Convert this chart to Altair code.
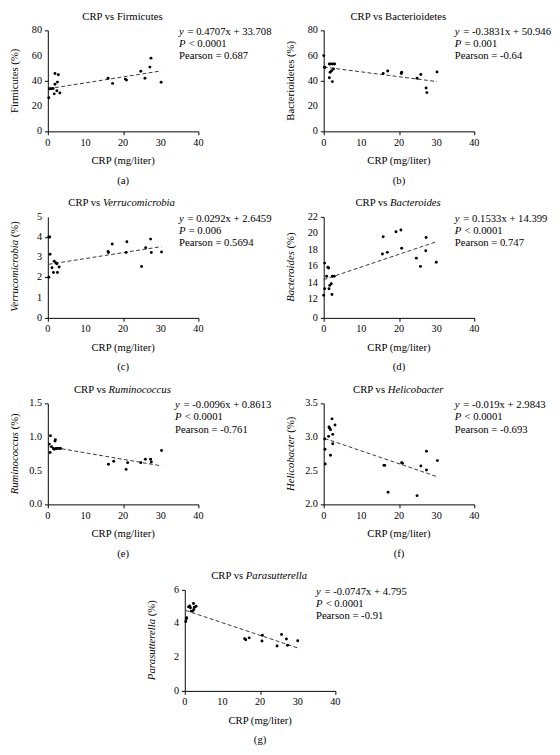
import altair as alt
import pandas as pd

FONT = "Liberation Serif, Times New Roman, serif"

# ---------------- data ----------------
crp_a = [0.26, 0.4, 0.85, 1.4, 1.7, 1.9, 1.9, 2.4, 2.55, 2.8, 3.2, 16.0, 17.2, 20.6, 20.9, 24.7, 25.8, 27.1, 27.4, 30.1]
firmicutes = [26.6, 33.8, 33.8, 34.0, 29.7, 37.3, 45.8, 32.2, 39.0, 44.8, 30.4, 42.0, 38.0, 41.4, 40.6, 47.6, 42.0, 50.9, 58.0, 38.9]

crp_b = [0.0, 0.2, 0.3, 1.5, 1.9, 2.4, 2.9, 1.5, 1.7, 2.1, 2.3, 2.6, 15.8, 17.0, 20.6, 20.7, 24.8, 25.8, 27.2, 27.4, 30.1]
bacterioidetes = [60.0, 50.9, 50.6, 53.4, 53.4, 53.4, 53.4, 42.5, 46.8, 48.0, 39.4, 49.4, 45.8, 47.8, 45.8, 46.8, 42.0, 45.0, 34.3, 30.7, 47.0]

crp_c = [0.26, 0.5, 0.26, 0.6, 1.1, 1.5, 1.7, 2.1, 2.4, 2.55, 3.0, 16.0, 16.1, 17.1, 20.8, 21.0, 24.9, 26.0, 27.3, 27.5, 30.2]
verrucomicrobia = [4.0, 4.0, 2.01, 3.15, 2.48, 2.25, 2.8, 2.73, 2.68, 2.25, 2.52, 3.29, 3.23, 3.66, 3.24, 3.77, 2.54, 3.47, 3.9, 3.24, 3.26]

crp_d = [0.26, 0.0, 0.26, 0.77, 1.1, 1.3, 1.4, 1.6, 2.0, 2.2, 2.3, 2.8, 15.8, 15.6, 16.9, 19.2, 20.5, 20.7, 24.6, 25.7, 27.2, 27.1, 29.9]
bacteroides = [16.4, 12.5, 13.3, 14.8, 15.9, 15.8, 13.3, 13.7, 13.9, 12.6, 14.8, 14.8, 19.6, 17.5, 17.7, 20.2, 20.4, 18.2, 17.0, 16.0, 19.5, 17.9, 16.5]

crp_e = [0.7, 0.4, 0.6, 1.0, 1.5, 1.9, 2.0, 1.7, 2.2, 2.5, 3.0, 3.4, 16.1, 17.5, 20.8, 21.2, 24.7, 25.9, 27.3, 27.5, 30.2]
ruminococcus = [1.02, 0.895, 0.77, 0.856, 0.83, 0.94, 0.96, 0.82, 0.83, 0.83, 0.83, 0.83, 0.595, 0.64, 0.52, 0.62, 0.62, 0.67, 0.67, 0.63, 0.80]

crp_f = [0.26, 0.34, 0.4, 1.3, 1.4, 1.6, 1.8, 1.8, 2.2, 2.4, 2.4, 3.0, 16.0, 16.2, 17.1, 20.7, 20.9, 24.8, 25.8, 27.3, 27.3, 30.2]
helicobacter = [2.97, 2.82, 2.60, 3.01, 3.15, 3.13, 3.11, 2.73, 3.27, 3.04, 2.90, 3.18, 2.58, 2.58, 2.18, 2.62, 2.61, 2.13, 2.57, 2.79, 2.51, 2.65]

crp_g = [0.26, 0.4, 0.5, 1.0, 1.3, 1.5, 1.7, 2.1, 2.3, 2.55, 3.0, 2.4, 15.9, 16.2, 17.1, 20.5, 20.6, 24.5, 25.7, 27.0, 27.3, 30.0]
parasutterella = [4.12, 4.28, 4.35, 4.99, 5.05, 4.94, 4.74, 4.74, 5.19, 4.97, 5.03, 4.84, 3.10, 3.04, 3.15, 2.96, 3.31, 2.67, 3.35, 3.08, 2.71, 2.98]

species = ["Firmicutes", "Bacterioidetes", "Verrucomicrobia", "Bacteroides", "Ruminococcus", "Helicobacter", "Parasutterella"]
italic_names = [False, False, True, True, True, True, True]
slopes = [0.4707, -0.3831, 0.0292, 0.1533, -0.0096, -0.019, -0.0747]
intercepts = [33.708, 50.946, 2.6459, 14.399, 0.8613, 2.9843, 4.795]
eq_texts = ["= 0.4707x + 33.708", "= -0.3831x + 50.946", "= 0.0292x + 2.6459", "= 0.1533x + 14.399",
            "= -0.0096x + 0.8613", "= -0.019x + 2.9843", "= -0.0747x + 4.795"]
p_texts = ["< 0.0001", "= 0.001", "= 0.006", "< 0.0001", "< 0.0001", "< 0.0001", "< 0.0001"]
pearson_texts = ["Pearson = 0.687", "Pearson = -0.64", "Pearson = 0.5694", "Pearson = 0.747",
                 "Pearson = -0.761", "Pearson = -0.693", "Pearson = -0.91"]
captions = ["(a)", "(b)", "(c)", "(d)", "(e)", "(f)", "(g)"]
y_domains = [[0, 80], [0, 80], [0, 5], [0, 12, 22], [0, 1.5], [2.0, 3.5], [0, 6]]
y_ticks = [[0, 20, 40, 60, 80], [0, 20, 40, 60, 80], [0, 1, 2, 3, 4, 5], [0, 12, 14, 16, 18, 20, 22],
           [0, 0.5, 1.0, 1.5], [2.0, 2.5, 3.0, 3.5], [0, 2, 4, 6]]
y_tick_labels = [["0", "20", "40", "60", "80"], ["0", "20", "40", "60", "80"], ["0", "1", "2", "3", "4", "5"],
                 ["0", "12", "14", "16", "18", "20", "22"], ["0.0", "0.5", "1.0", "1.5"],
                 ["2.0", "2.5", "3.0", "3.5"], ["0", "2", "4", "6"]]
x_ticks = [0, 10, 20, 30, 40]
x_tick_labels = ["0", "10", "20", "30", "40"]
x_title = "CRP (mg/liter)"
xs_all = [crp_a, crp_b, crp_c, crp_d, crp_e, crp_f, crp_g]
ys_all = [firmicutes, bacterioidetes, verrucomicrobia, bacteroides, ruminococcus, helicobacter, parasutterella]

# ---------------- layout ----------------
W, H = 155, 104
TS = 11      # title size
AS = 11      # annotation size
LS = 10.5    # tick label size

ROMAN = {"F": .556, "B": .667, "V": .722, "R": .667, "H": .722, "P": .556, "a": .444, "b": .5, "c": .444,
         "d": .5, "e": .444, "i": .278, "l": .278, "m": .778, "n": .5, "o": .5, "r": .333, "s": .389,
         "t": .278, "u": .5, "(": .333, "%": .833, ")": .333, " ": .25}
ITAL = {"F": .611, "B": .611, "V": .611, "R": .611, "H": .722, "P": .611, "a": .5, "b": .5, "c": .444,
        "d": .5, "e": .444, "i": .278, "l": .278, "m": .722, "n": .5, "o": .5, "r": .389, "s": .389,
        "t": .278, "u": .5, " ": .25}


def tw(s, italic, fs):
    tab = ITAL if italic else ROMAN
    return sum(tab.get(c, .5) for c in s) * fs


one = pd.DataFrame({"k": [0]})


def tstyle(size, italic=False, align="left", baseline="middle", angle=0):
    kw = dict(font=FONT, fontSize=size, color="black", align=align, baseline=baseline,
              fontStyle="italic" if italic else "normal", fontWeight="normal")
    if angle:
        kw["angle"] = angle
    return kw


def txt(text, x, y, size, italic=False, align="left", baseline="middle", angle=0):
    return alt.Chart(one).mark_text(text=text, **tstyle(size, italic, align, baseline, angle)).encode(
        x=alt.value(x), y=alt.value(y))


def panel(i, ann_x=135):
    xv, yv = xs_all[i], ys_all[i]
    df = pd.DataFrame({"x": xv, "y": yv})
    xs = alt.Scale(domain=[0, 40], nice=False, zero=False)
    dom = y_domains[i]
    if len(dom) == 3:
        ys = alt.Scale(domain=dom, range=[H, H - 19, 0], nice=False, zero=False)
    else:
        ys = alt.Scale(domain=dom, nice=False, zero=False)
    xax = alt.Axis(values=x_ticks, title=None, labels=False)
    yax = alt.Axis(values=y_ticks[i], title=None, labels=False)
    pts = alt.Chart(df).mark_circle(size=9, color="black", opacity=1).encode(
        x=alt.X("x:Q", scale=xs, axis=xax), y=alt.Y("y:Q", scale=ys, axis=yax))
    x0, x1 = min(xv), max(xv)
    ldf = pd.DataFrame({"x": [x0, x1], "y": [slopes[i] * x0 + intercepts[i], slopes[i] * x1 + intercepts[i]]})
    line = alt.Chart(ldf).mark_line(strokeDash=[4, 2.5], color="#333333", strokeWidth=1).encode(
        x=alt.X("x:Q", scale=xs), y=alt.Y("y:Q", scale=ys))

    # tick labels (drawn through the same scales)
    ylab = alt.Chart(pd.DataFrame({"v": y_ticks[i], "t": y_tick_labels[i]})).mark_text(
        **tstyle(LS, align="right")).encode(y=alt.Y("v:Q", scale=ys), x=alt.value(-6), text="t:N")
    xlab = alt.Chart(pd.DataFrame({"v": x_ticks, "t": x_tick_labels})).mark_text(
        **tstyle(LS, align="center")).encode(x=alt.X("v:Q", scale=xs), y=alt.value(H + 12), text="t:N")
    xt = txt(x_title, W / 2, H + 31, TS, align="center")

    it = italic_names[i]
    sp = species[i]
    # top title: "CRP vs" + species
    w_crp = tw("CRP vs", False, TS)
    w_sp = tw(sp, it, TS)
    gap = 0.25 * TS
    start = W / 2 - (w_crp + gap + w_sp) / 2
    t1 = txt("CRP vs", start + w_crp, -14, TS, align="right")
    t2 = txt(sp, start + w_crp + gap, -14, TS, italic=it, align="left")
    # y title (rotated): species + "(%)"
    w_pc = tw("(%)", False, TS)
    total = w_sp + gap + w_pc
    ybot = H / 2 + total / 2
    ysplit = ybot - w_sp
    yt1 = txt(sp, -31, ysplit, TS, italic=it, align="right", baseline="alphabetic", angle=270)
    yt2 = txt("(%)", -31, ysplit - gap, TS, align="left", baseline="alphabetic", angle=270)
    # annotation
    a1 = txt("y", ann_x, 2, AS, italic=True)
    a2 = txt(eq_texts[i], ann_x + tw("y", True, AS) + 0.25 * AS + 0.5, 2, AS)
    a3 = txt("P", ann_x, 14.5, AS, italic=True)
    a4 = txt(p_texts[i], ann_x + tw("P", True, AS) + 0.25 * AS + 0.5, 14.5, AS)
    a5 = txt(pearson_texts[i], ann_x, 27, AS)
    cap = txt(captions[i], W / 2, H + 51, TS, align="center")
    return alt.layer(line, pts, ylab, xlab, xt, t1, t2, yt1, yt2, a1, a2, a3, a4, a5, cap).properties(
        width=W, height=H)


spacer = alt.Chart(one).mark_text(text="").encode(x=alt.value(0), y=alt.value(0)).properties(width=12, height=H)

row1 = alt.hconcat(panel(0), panel(1), spacing=129, bounds="flush")
row2 = alt.hconcat(panel(2), panel(3), spacing=129, bounds="flush")
row3 = alt.hconcat(panel(4, ann_x=131), panel(5), spacing=129, bounds="flush")
row4 = alt.hconcat(spacer, panel(6), spacing=129, bounds="flush")

chart = alt.vconcat(row1, row2, row3, row4, spacing=12).properties(
    padding={"top": -8, "left": 0, "right": 0, "bottom": 0}
).configure_view(stroke=None).configure_axis(
    grid=False, domainColor="black", tickColor="black", tickSize=3.5, domainWidth=1, tickWidth=1
)

chart.save("out.html", embed_options={"renderer": "svg", "actions": False})
